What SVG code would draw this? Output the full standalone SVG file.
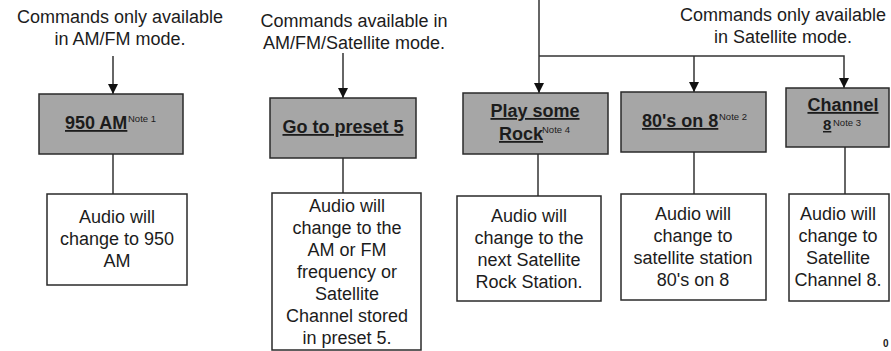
<svg xmlns="http://www.w3.org/2000/svg" width="891" height="351" viewBox="0 0 891 351">
<style>
text{font-family:"Liberation Sans",Arial,sans-serif;fill:#1c1c1c}
.hdr{font-size:18px;text-anchor:middle}
.body{font-size:18px;text-anchor:middle}
.cmd{font-size:18px;font-weight:bold;text-decoration:underline}
.note{font-size:9.5px}
.gray{fill:#a6a6a6;stroke:#2a2a2a;stroke-width:1.5}
.white{fill:#ffffff;stroke:#2a2a2a;stroke-width:1.5}
.ln{fill:none;stroke:#333333;stroke-width:1.5}
</style>
<defs>
<marker id="arr" viewBox="0 0 10 10" refX="10" refY="5" markerWidth="10" markerHeight="10" markerUnits="userSpaceOnUse" orient="auto">
<path d="M0,0 L10,5 L0,10 Z" fill="#111111"/>
</marker>
</defs>
<rect width="891" height="351" fill="#ffffff"/>

<g id="headers">
<text class="hdr" x="120" y="23">Commands only available</text>
<text class="hdr" x="120" y="45">in AM/FM mode.</text>
<text class="hdr" x="354" y="27">Commands available in</text>
<text class="hdr" x="354" y="49">AM/FM/Satellite mode.</text>
<text class="hdr" x="783" y="21">Commands only available</text>
<text class="hdr" x="783" y="43">in Satellite mode.</text>
</g>

<g id="connectors">
<line class="ln" x1="113" y1="56" x2="113" y2="94" marker-end="url(#arr)"/>
<line class="ln" x1="113" y1="154" x2="113" y2="194"/>
<line class="ln" x1="343" y1="53" x2="343" y2="98" marker-end="url(#arr)"/>
<line class="ln" x1="343" y1="158" x2="343" y2="193"/>
<line class="ln" x1="539" y1="0" x2="539" y2="93" marker-end="url(#arr)"/>
<polyline class="ln" points="539,56 844,56 844,88" marker-end="url(#arr)"/>
<line class="ln" x1="694" y1="56" x2="694" y2="92" marker-end="url(#arr)"/>
<line class="ln" x1="538" y1="154" x2="538" y2="196"/>
<line class="ln" x1="694" y1="152" x2="694" y2="194"/>
<line class="ln" x1="845" y1="147" x2="845" y2="194"/>
</g>

<g id="cmd-950am">
<rect class="gray" x="39" y="94" width="144" height="60"/>
<text class="cmd" x="65" y="129">950 AM</text>
<text class="note" x="128" y="122">Note 1</text>
</g>
<g id="cmd-preset5">
<rect class="gray" x="270" y="98" width="146" height="60"/>
<text class="cmd" x="343" y="133" text-anchor="middle">Go to preset 5</text>
</g>
<g id="cmd-rock">
<rect class="gray" x="463" y="93" width="145" height="61"/>
<text class="cmd" x="535" y="117" text-anchor="middle">Play some</text>
<text class="cmd" x="499" y="140">Rock</text>
<text class="note" x="542" y="133">Note 4</text>
</g>
<g id="cmd-80s">
<rect class="gray" x="621" y="92" width="145" height="60"/>
<text class="cmd" x="642" y="127">80's on 8</text>
<text class="note" x="719" y="120">Note 2</text>
</g>
<g id="cmd-channel8">
<rect class="gray" x="786" y="88" width="103" height="59"/>
<text class="cmd" x="843" y="111" text-anchor="middle">Channel</text>
<text class="cmd" x="823" y="130" style="font-size:15px">8</text>
<text class="note" x="833" y="126">Note 3</text>
</g>

<g id="res-950am">
<rect class="white" x="47" y="194" width="140" height="91"/>
<text class="body" x="117" y="223">Audio will</text>
<text class="body" x="117" y="245">change to 950</text>
<text class="body" x="117" y="267">AM</text>
</g>
<g id="res-preset5">
<rect class="white" x="272" y="193" width="149" height="157"/>
<text class="body" x="347" y="212">Audio will</text>
<text class="body" x="347" y="234">change to the</text>
<text class="body" x="347" y="256">AM or FM</text>
<text class="body" x="347" y="278">frequency or</text>
<text class="body" x="347" y="300">Satellite</text>
<text class="body" x="347" y="322">Channel stored</text>
<text class="body" x="347" y="344">in preset 5.</text>
</g>
<g id="res-rock">
<rect class="white" x="457" y="196" width="144" height="105"/>
<text class="body" x="529" y="222">Audio will</text>
<text class="body" x="529" y="244">change to the</text>
<text class="body" x="529" y="266">next Satellite</text>
<text class="body" x="529" y="288">Rock Station.</text>
</g>
<g id="res-80s">
<rect class="white" x="621" y="194" width="145" height="106"/>
<text class="body" x="693" y="220">Audio will</text>
<text class="body" x="693" y="242">change to</text>
<text class="body" x="693" y="264">satellite station</text>
<text class="body" x="693" y="286">80's on 8</text>
</g>
<g id="res-channel8">
<rect class="white" x="789" y="194" width="100" height="107"/>
<text class="body" x="838" y="220">Audio will</text>
<text class="body" x="838" y="242">change to</text>
<text class="body" x="838" y="264">Satellite</text>
<text class="body" x="838" y="286">Channel 8.</text>
</g>
<text x="883" y="347" style="font-size:10px;font-weight:bold">0</text>
</svg>
